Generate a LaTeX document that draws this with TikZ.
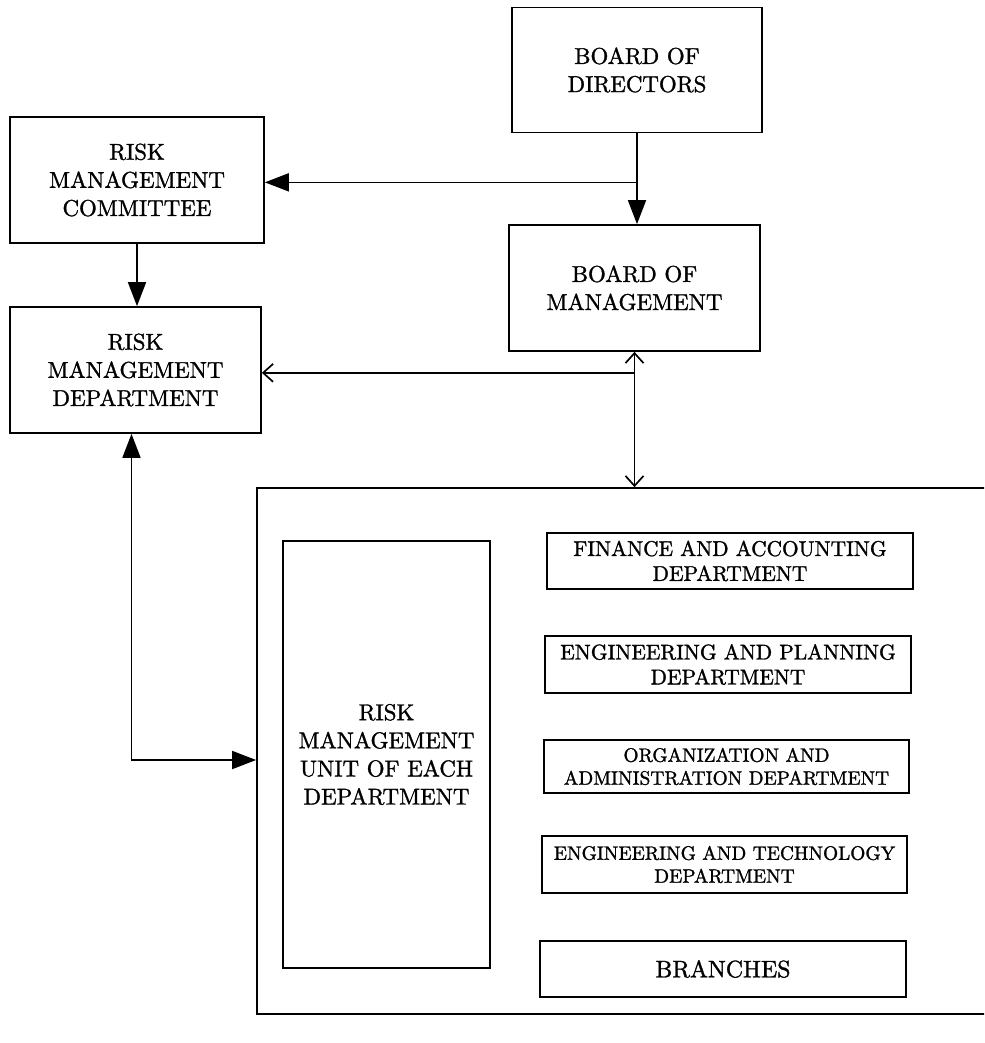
\documentclass[tikz,border=0pt]{standalone}
\usepackage{fontspec}
\setmainfont{lmroman10-regular.otf}[FakeBold=1.3]
\usetikzlibrary{arrows.meta}
\tikzset{
	orgbox/.style={draw, line width=1.2pt, align=center, inner sep=2pt, font=\fontsize{16.3}{20}\selectfont},
	deptbox/.style={draw, line width=1.2pt, align=center, inner sep=1pt, minimum width=91.5mm, minimum height=14mm},
	solidlink/.style={line width=1.2pt, >={Triangle[length=6mm,width=4.5mm]}},
	openlink/.style={line width=1.2pt, >={Straight Barb[length=2.5mm,width=4.5mm]}}
}
\begin{document}
\begin{tikzpicture}[x=0.25mm, y=-0.25mm]
			\useasboundingbox (0,0) rectangle (984,1043);
			\clip (0,0) rectangle (984,1043);
			% Boards at the top
			\node[orgbox, minimum width=62.5mm, minimum height=31.25mm] (directors) at (637,70) {BOARD OF\\DIRECTORS};
			\node[orgbox, minimum width=62.75mm, minimum height=31.5mm] (management) at (634.5,288) {BOARD OF\\MANAGEMENT};
			% Risk management bodies on the left
			\node[orgbox, minimum width=63.5mm, minimum height=31.5mm] (committee) at (137,180) {RISK\\MANAGEMENT\\COMMITTEE};
			\node[orgbox, minimum width=62.75mm, minimum height=31.5mm] (riskdept) at (135.5,370) {RISK\\MANAGEMENT\\DEPARTMENT};
			% Large frame holding the departments (runs off the right edge)
			\node[draw, line width=1.2pt, minimum width=188.25mm, minimum height=131.5mm] (departments) at (633.5,751) {};
			\node[orgbox, minimum width=51.75mm, minimum height=106.75mm] (riskunit) at (386.5,754.5) {RISK\\MANAGEMENT\\UNIT OF EACH\\DEPARTMENT};
			% Departments inside the frame
			\node[deptbox, font=\fontsize{15.2}{17.7}\selectfont] (finance) at (730,561) {FINANCE AND ACCOUNTING\\DEPARTMENT};
			\node[deptbox, font=\fontsize{15.2}{17.7}\selectfont, minimum height=14.25mm] (planning) at (728,664.5) {ENGINEERING AND PLANNING\\DEPARTMENT};
			\node[deptbox, font=\fontsize{13.8}{16.3}\selectfont, minimum width=91.25mm, minimum height=13.25mm] (administration) at (726.5,766.5) {ORGANIZATION AND\\ADMINISTRATION DEPARTMENT};
			\node[deptbox, font=\fontsize{13.8}{16.3}\selectfont, minimum width=91.25mm, minimum height=14.25mm] (technology) at (724.5,864.5) {ENGINEERING AND TECHNOLOGY\\DEPARTMENT};
			\node[deptbox, font=\fontsize{17}{20}\selectfont] (branches) at (723,969) {BRANCHES};
			% Connectors
			\coordinate (split1) at ([yshift=-12.25mm]directors.south);
			\coordinate (split2) at ([yshift=-5.25mm]management.south);
			\draw[solidlink,->] (directors.south) -- (directors.south |- management.north);
			\draw[solidlink,->] (split1) -- (split1 -| committee.east);
			\draw[solidlink,->] (committee.south) -- (committee.south |- riskdept.north);
			\draw[openlink,<->] (management.south) -- (management.south |- departments.north);
			\draw[openlink,->] (split2) -- (split2 -| riskdept.east);
			\draw[solidlink,<->] ([xshift=-1mm]riskdept.south) |- ([yshift=-2.25mm]departments.west);
		\end{tikzpicture}
\end{document}
